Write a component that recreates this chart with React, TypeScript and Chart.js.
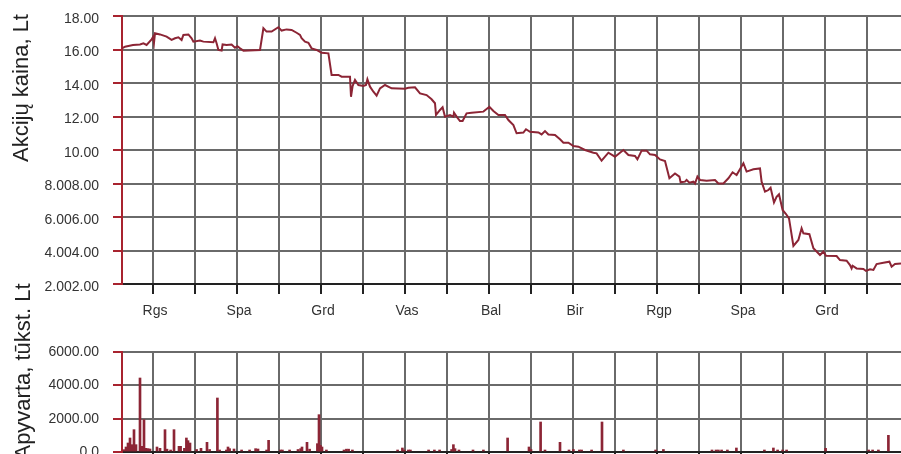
import React, { useEffect, useRef } from 'react';
import { Chart, registerables } from 'chart.js';

Chart.register(...registerables);

// ---- data ----
const dayMin = 0;
const dayMax = 389.5;
const monthStartDays = [15.5, 36.5, 57.5, 78.5, 99.5, 120.5, 141.5, 162.5, 183.5, 204.5, 225.5, 246.5, 267.5, 288.5, 309.5, 330.5, 351.5, 372.5];
const monthLabels = ['Rgs', '', 'Spa', '', 'Grd', '', 'Vas', '', 'Bal', '', 'Bir', '', 'Rgp', '', 'Spa', '', 'Grd', ''];

const priceDays = [0, 1.5, 5.5, 9, 10.7, 12.3, 14.8, 15.5, 16, 16.5, 19, 22.3, 24.8, 26.5, 28.2, 29.8, 30.7, 33.2, 34.8, 35.7, 39, 40.7, 45.7, 46.5, 47.3, 48.2, 49.8, 50.3, 52.3, 54.8, 56.5, 57.7, 59, 60.7, 69, 70.7, 72.3, 74.8, 78.2, 79.8, 82.3, 84.8, 87.3, 89, 89.8, 91.5, 93.2, 94.8, 97.3, 99.8, 103.2, 104.8, 108.2, 109.8, 114, 114.5, 115.3, 116.5, 118.2, 120.7, 122, 122.7, 124, 125.7, 127.3, 129, 131.5, 134.8, 141.5, 143.2, 146.5, 149, 152.3, 154.8, 156.5, 157, 159, 160.3, 161.5, 164, 165.7, 166, 167.3, 169, 170.3, 172.3, 174.8, 180.7, 183.7, 185.7, 188.2, 191.5, 193.2, 195.7, 197.3, 200.7, 202, 204, 208.2, 209.8, 211.5, 213.2, 216.5, 219, 220.7, 223.2, 225.7, 228.2, 231.5, 235.7, 237.3, 239.8, 243.2, 246.5, 250.7, 253.2, 256.5, 257.7, 259.8, 262.3, 264, 266.5, 269, 271.5, 273.7, 276.5, 278.7, 279.3, 281.5, 282.3, 283.7, 285.7, 286.5, 287.7, 289, 292.3, 296.5, 298.2, 300.7, 303.2, 305.3, 307.3, 310.7, 312.3, 315.7, 319, 319.8, 321.5, 323.2, 324.3, 326, 327.3, 328.5, 330.3, 332, 333.5, 335.7, 338.2, 339.8, 340.7, 343.7, 345.7, 349, 350.7, 352, 357.3, 359, 362.3, 364, 364.8, 365.3, 367.3, 370.7, 372, 374, 375.7, 377.3, 380.7, 383.7, 384.8, 386.5, 389.5];
const priceValues = [16.07, 16.17, 16.27, 16.30, 16.37, 16.27, 16.60, 16.75, 16.40, 16.97, 16.90, 16.77, 16.57, 16.67, 16.73, 16.57, 16.87, 16.90, 16.67, 16.47, 16.53, 16.47, 16.43, 16.67, 16.37, 15.97, 15.93, 16.30, 16.27, 16.30, 16.10, 16.20, 16.07, 15.93, 15.97, 17.27, 17.07, 17.07, 17.33, 17.13, 17.20, 17.17, 17.00, 16.87, 16.67, 16.47, 16.40, 16.07, 15.97, 15.80, 15.77, 14.48, 14.48, 14.38, 14.38, 13.18, 13.82, 14.18, 13.88, 13.82, 13.88, 14.22, 13.78, 13.48, 13.24, 13.68, 13.88, 13.68, 13.66, 13.72, 13.74, 13.38, 13.28, 13.03, 12.79, 12.09, 12.39, 12.55, 11.99, 12.09, 11.99, 12.23, 11.99, 11.73, 11.73, 12.19, 12.23, 12.29, 12.58, 12.33, 12.09, 12.09, 11.79, 11.49, 11.00, 11.04, 11.24, 11.09, 11.05, 10.93, 11.13, 10.93, 10.90, 10.64, 10.44, 10.44, 10.24, 10.20, 10.00, 9.84, 9.80, 9.36, 9.84, 9.60, 10.00, 9.70, 9.64, 9.44, 9.96, 9.96, 9.74, 9.70, 9.44, 9.34, 8.31, 8.60, 8.41, 8.07, 8.11, 8.21, 8.05, 8.11, 8.00, 8.41, 8.21, 8.17, 8.21, 8.00, 8.00, 8.31, 8.67, 8.51, 9.21, 8.71, 8.85, 8.90, 8.11, 7.51, 7.61, 7.75, 6.87, 7.21, 7.36, 6.42, 6.18, 5.92, 4.27, 4.63, 5.33, 5.03, 4.97, 4.13, 3.73, 3.93, 3.69, 3.67, 3.43, 3.39, 3.13, 2.93, 3.09, 2.93, 2.90, 2.78, 2.88, 2.84, 3.19, 3.27, 3.33, 3.03, 3.19, 3.23];
const priceTickValues = [2, 4, 6, 8, 10, 12, 14, 16, 18];
const priceTickLabels = ['2.002.00', '4.004.00', '6.006.00', '8.008.00', '10.00', '12.00', '14.00', '16.00', '18.00'];

const turnoverDays = [1, 2, 3, 4, 5, 6, 7, 9, 10, 11, 12, 13, 14, 17.5, 19, 21.5, 22.5, 24.3, 26, 28.5, 29.3, 31.2, 32.2, 33, 34, 37.3, 39.5, 42.5, 43.8, 47.7, 48.8, 52.2, 53, 53.8, 56, 59.8, 63.8, 66.8, 68, 72.3, 73.3, 79.2, 80.2, 83.8, 88, 89.3, 90, 92.5, 93.8, 97.7, 98.5, 99.2, 100, 102.2, 111, 112.2, 113.3, 115.2, 137.8, 140.2, 141.2, 143.2, 144.2, 153.3, 156.2, 158.8, 164.8, 165.7, 166.5, 168.5, 175.5, 180.7, 192.8, 203.5, 204.5, 209.3, 211.5, 219, 223.5, 225.7, 228.7, 229.8, 234.8, 240, 250.7, 266.8, 270.7, 295, 297, 298.2, 299.8, 302.7, 307.2, 321.2, 325.7, 327.8, 330.3, 332.3, 351.8, 373.3, 375.3, 378.2, 383.2];
const turnoverValues = [140, 300, 540, 840, 440, 1340, 440, 4440, 340, 1940, 220, 200, 180, 300, 220, 1340, 170, 120, 1340, 340, 340, 220, 840, 680, 540, 150, 220, 580, 150, 3240, 120, 120, 300, 200, 180, 120, 120, 200, 180, 120, 700, 120, 120, 120, 150, 200, 300, 580, 170, 500, 2240, 400, 300, 120, 120, 170, 170, 120, 120, 240, 120, 120, 120, 120, 120, 120, 150, 440, 200, 120, 120, 120, 840, 300, 150, 1800, 120, 580, 120, 150, 120, 120, 120, 1800, 120, 120, 150, 120, 120, 120, 120, 120, 240, 120, 240, 120, 120, 120, 220, 120, 120, 120, 1000];
const turnoverTickValues = [0, 2000, 4000, 6000];
const turnoverTickLabels = ['0.0', '2000.00', '4000.00', '6000.00'];

const priceTitle = 'Akcijų kaina, Lt';
const turnoverTitle = 'Apyvarta, tūkst. Lt';

// ---- styles ----
const FONT = 'Liberation Sans, Arial, sans-serif';
const gridColor = '#6a6a6a';
const axisRed = '#a8232f';
const seriesColor = '#8c2535';
const textColor = '#333333';

const sideTitle = {
  id: 'sideTitle',
  afterDraw(chart: any, _args: any, opts: any) {
    const ctx = chart.ctx;
    ctx.save();
    ctx.translate(opts.x, opts.y);
    ctx.rotate(-Math.PI / 2);
    ctx.font = opts.font;
    ctx.fillStyle = opts.color;
    ctx.textAlign = 'center';
    ctx.textBaseline = 'alphabetic';
    ctx.fillText(opts.text, 0, 0);
    ctx.restore();
  },
};

function xScale(showLabels: boolean, height: number) {
  return {
    type: 'linear',
    min: dayMin,
    max: dayMax,
    offset: false,
    afterBuildTicks: (s: any) => {
      s.ticks = monthStartDays.map((v) => ({ value: v }));
    },
    afterFit: (s: any) => {
      s.height = height;
      s.paddingLeft = 0;
      s.paddingRight = 0;
    },
    ticks: {
      display: showLabels,
      autoSkip: false,
      maxRotation: 0,
      minRotation: 0,
      padding: 9,
      labelOffset: 2,
      color: textColor,
      font: { family: FONT, size: 14 },
      callback: (v: any) => monthLabels[monthStartDays.indexOf(v)] ?? '',
    },
    grid: { color: gridColor, lineWidth: 2, tickLength: 10, tickColor: '#222', offset: false },
    border: { color: '#222', width: 2 },
  };
}

function yScale(min: number, max: number, values: number[], labels: string[], labelOffset: number) {
  return {
    type: 'linear',
    min,
    max,
    afterBuildTicks: (s: any) => {
      s.ticks = values.map((v) => ({ value: v }));
    },
    afterFit: (s: any) => {
      s.width = 122;
      s.paddingTop = 0;
      s.paddingBottom = 0;
    },
    ticks: {
      padding: 14,
      labelOffset,
      color: textColor,
      font: { family: FONT, size: 14 },
      callback: (v: any) => labels[values.indexOf(v)] ?? '',
    },
    grid: { color: gridColor, lineWidth: 2, tickLength: 9, tickColor: axisRed },
    border: { color: axisRed, width: 2 },
  };
}

export default function App() {
  const topRef = useRef<HTMLCanvasElement>(null);
  const botRef = useRef<HTMLCanvasElement>(null);

  useEffect(() => {
    document.body.style.margin = '0';
    document.body.style.overflow = 'hidden';
    document.documentElement.style.overflow = 'hidden';

    const top = new Chart(topRef.current as HTMLCanvasElement, {
      type: 'line',
      data: {
        datasets: [
          {
            data: priceDays.map((d, i) => ({ x: d, y: priceValues[i] })),
            borderColor: seriesColor,
            borderWidth: 2,
            pointRadius: 0,
            tension: 0,
            fill: false,
          },
        ],
      },
      options: {
        responsive: false,
        animation: false,
        devicePixelRatio: 1,
        layout: { padding: { top: 16, left: 0, right: 0, bottom: 0 } },
        plugins: {
          legend: { display: false },
          tooltip: { enabled: false },
          sideTitle: { text: priceTitle, x: 28, y: 88, font: `22px ${FONT}`, color: '#222' },
        } as any,
        scales: {
          x: xScale(true, 46),
          y: yScale(2, 18, priceTickValues, priceTickLabels, 3),
        } as any,
      },
      plugins: [sideTitle],
    });

    const bot = new Chart(botRef.current as HTMLCanvasElement, {
      type: 'bar',
      data: {
        datasets: [
          {
            data: turnoverDays.map((d, i) => ({ x: d, y: turnoverValues[i] })) as any,
            backgroundColor: seriesColor,
            barThickness: 2,
          },
        ],
      },
      options: {
        responsive: false,
        animation: false,
        devicePixelRatio: 1,
        layout: { padding: { top: 102, left: 0, right: 0, bottom: 0 } },
        plugins: {
          legend: { display: false },
          tooltip: { enabled: false },
          sideTitle: { text: turnoverTitle, x: 30, y: 121.5, font: `22px ${FONT}`, color: '#222' },
        } as any,
        scales: {
          x: xScale(false, 42),
          y: yScale(0, 6000, turnoverTickValues, turnoverTickLabels, 0),
        } as any,
      },
      plugins: [sideTitle],
    });

    return () => {
      top.destroy();
      bot.destroy();
    };
  }, []);

  return (
    <div style={{ position: 'relative', width: 901, height: 454, overflow: 'hidden', background: '#fff' }}>
      <canvas ref={topRef} width={901} height={330} style={{ position: 'absolute', left: 0, top: 0 }} />
      <canvas ref={botRef} width={901} height={244} style={{ position: 'absolute', left: 0, top: 250 }} />
    </div>
  );
}
